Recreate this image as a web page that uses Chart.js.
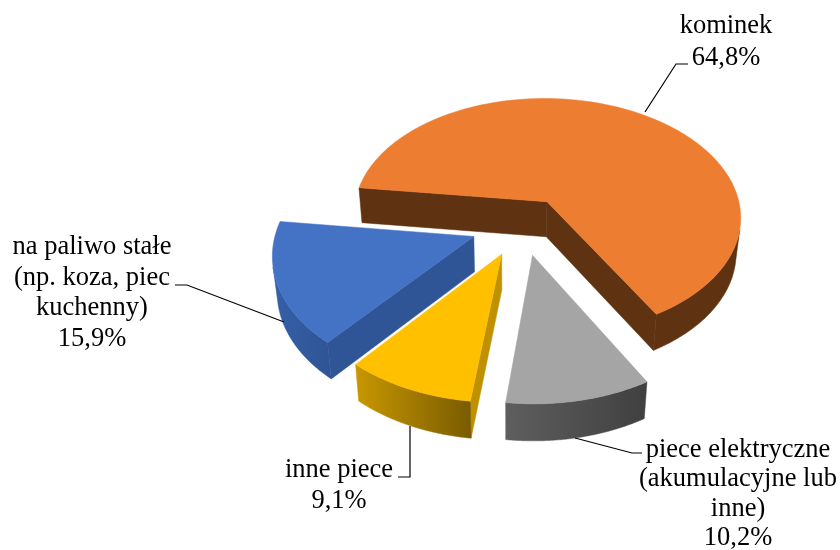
<!DOCTYPE html>
<html>
<head>
<meta charset="utf-8">
<script src="https://cdn.jsdelivr.net/npm/chart.js@4"></script>
<style>
  body { margin: 0; background: #fff; }
  canvas { display: block; }
</style>
</head>
<body>
<canvas id="chart1" width="840" height="550"></canvas>
<script>
const categories = ["kominek", "piece elektryczne (akumulacyjne lub inne)", "inne piece", "na paliwo stałe (np. koza, piec kuchenny)"];
const shares = [64.8, 10.2, 9.1, 15.9];

const labelLines = [["kominek"], ["piece elektryczne", "(akumulacyjne lub", "inne)"], ["inne piece"], ["na paliwo stałe", "(np. koza, piec", "kuchenny)"]];

const topColors = ["#ED7D31", "#A5A5A5", "#FFC000", "#4472C4"];
const faceColors = ["#5F3212", "#4A4A4A", "#BF9000", "#2F5597"];
const wallColors = [["#5F3212", "#5F3212"], ["#5E5E5E", "#404040"], ["#C89700", "#7A5C00"], ["#3560A8", "#2F5597"]];
const explode = [56, 61, 63, 64];

// where the labels sit: centre x, first baseline, line height
const labelPos = [[726, 33, 31.5], [738, 457, 29.4], [339, 477, 31], [92, 254, 30.7]];
const leaders = [
  [[645, 112], [676, 64], [688, 64]],
  [[575, 438], [632, 453], [642, 453]],
  [[410, 426], [410, 477], [398, 477]],
  [[284, 322], [187, 285], [175, 285]],
];

// camera for the tilted pie
const cam = { cx: 522.5, cy: 224.5, s: 196.5, sy: 121.5, p: 0.125 };

function project(u, v) {
  const w = 1 - cam.p * v;
  return [cam.cx + cam.s * u / w, cam.cy + cam.sy * v / w];
}

function lower(pt) {
  return [510 + (pt[0] - 510) * 0.98, pt[1] + 35 + 0.01 * (pt[1] - 200)];
}

function area(pts) {
  let sum = 0;
  pts.forEach((p, i) => {
    const q = pts[(i + 1) % pts.length];
    sum += p[0] * q[1] - q[0] * p[1];
  });
  return sum / 2;
}

function fillPoly(ctx, pts, color) {
  ctx.beginPath();
  pts.forEach((p, i) => (i ? ctx.lineTo(p[0], p[1]) : ctx.moveTo(p[0], p[1])));
  ctx.closePath();
  ctx.fillStyle = color;
  ctx.fill();
  ctx.strokeStyle = color;
  ctx.lineWidth = 0.5;
  ctx.stroke();
}

const pie3d = {
  id: "pie3d",
  beforeDatasetDraw(chart) {
    const ctx = chart.ctx;
    const arcs = chart.getDatasetMeta(0).data;

    arcs.forEach((arc, i) => {
      const mid = (arc.startAngle + arc.endAngle) / 2;
      const off = arc.options.offset / arc.outerRadius;
      const ou = Math.cos(mid) * off;
      const ov = Math.sin(mid) * off;

      const tip = project(ou, ov);
      const rim = [];
      const steps = 80;
      for (let n = 0; n <= steps; n++) {
        const a = arc.startAngle + ((arc.endAngle - arc.startAngle) * n) / steps;
        rim.push(project(ou + Math.cos(a), ov + Math.sin(a)));
      }

      const xs = rim.map((p) => p[0]);
      const grad = ctx.createLinearGradient(Math.max(...xs), 0, Math.min(...xs), 0);
      grad.addColorStop(0, wallColors[i][1]);
      grad.addColorStop(1, wallColors[i][0]);

      // the two cut faces
      [[tip, rim[0]], [rim[steps], tip]].forEach(([a, b]) => {
        const quad = [a, b, lower(b), lower(a)];
        if (area(quad) < 0) fillPoly(ctx, quad, faceColors[i]);
      });

      // the round wall, only the part that looks at the camera
      const run = [];
      for (let n = 0; n < steps; n++) {
        const quad = [rim[n], rim[n + 1], lower(rim[n + 1]), lower(rim[n])];
        if (area(quad) < 0) {
          if (!run.length) run.push(rim[n]);
          run.push(rim[n + 1]);
        }
      }
      if (run.length) fillPoly(ctx, [...run, ...run.map(lower).reverse()], grad);

      fillPoly(ctx, [tip, ...rim], arc.options.backgroundColor);
    });

    ctx.strokeStyle = "#000";
    ctx.lineWidth = 1.2;
    leaders.forEach((line) => {
      ctx.beginPath();
      line.forEach((p, i) => (i ? ctx.lineTo(p[0], p[1]) : ctx.moveTo(p[0], p[1])));
      ctx.stroke();
    });

    ctx.fillStyle = "#000";
    ctx.font = '26.5px "Liberation Serif"';
    ctx.textAlign = "center";
    ctx.textBaseline = "alphabetic";
    labelLines.forEach((lines, i) => {
      const text = [...lines, shares[i].toFixed(1).replace(".", ",") + "%"];
      text.forEach((t, n) => ctx.fillText(t, labelPos[i][0], labelPos[i][1] + n * labelPos[i][2]));
    });
    return false;
  },
};

const ctx1 = document.getElementById("chart1").getContext("2d");
const chart1 = new Chart(ctx1, {
  type: "pie",
  data: {
    labels: categories,
    datasets: [
      {
        data: shares,
        backgroundColor: topColors,
        offset: explode,
        borderWidth: 0,
      },
    ],
  },
  options: {
    responsive: false,
    animation: false,
    events: [],
    rotation: -83,
    plugins: { legend: { display: false }, tooltip: { enabled: false } },
  },
  plugins: [pie3d],
});
</script>
</body>
</html>
